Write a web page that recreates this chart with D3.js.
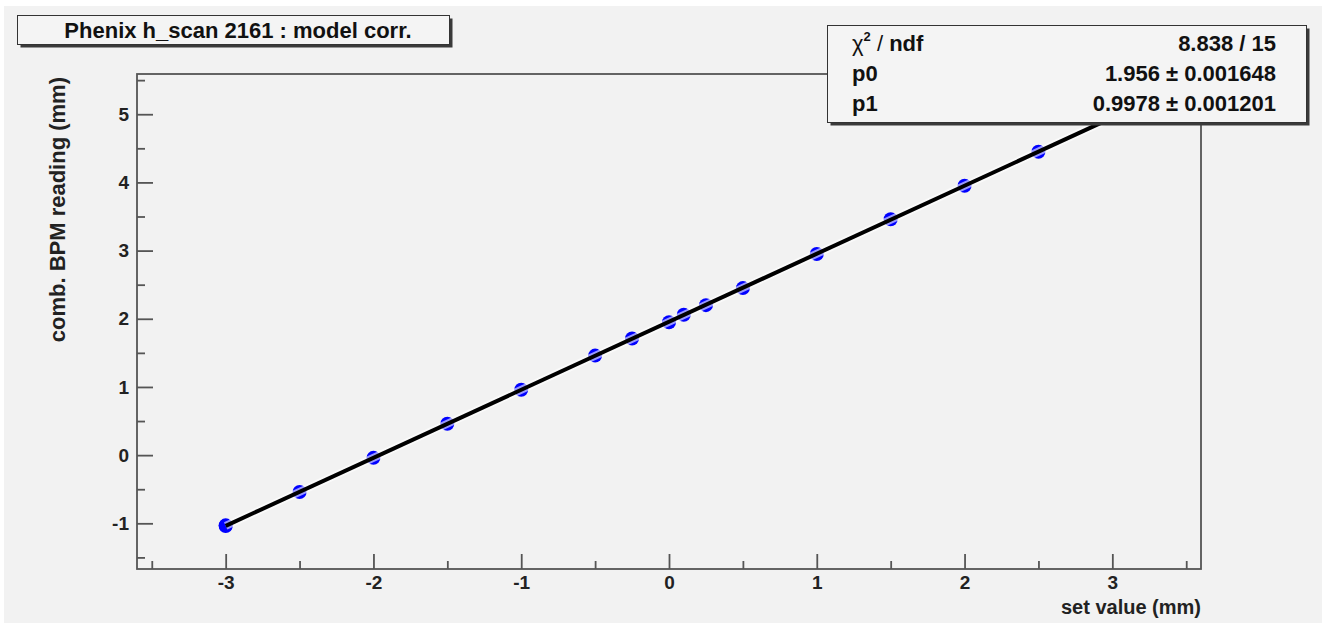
<!DOCTYPE html>
<html>
<head>
<meta charset="utf-8">
<script src="https://cdn.jsdelivr.net/npm/d3@7"></script>
<style>
  html, body { margin: 0; padding: 0; background: #ffffff; }
  svg { display: block; font-family: "Liberation Sans", Arial, Helvetica, sans-serif; }
</style>
</head>
<body>
<svg id="chart" width="1325" height="627"></svg>
<script>
// Horizontal scan 2161: set value vs combined BPM reading
const setValues = [-3, -3, -2.5, -2, -1.5, -1, -0.5, -0.25, 0, 0.1, 0.25, 0.5, 1, 1.5, 2, 2.5, 3];
const bpmReadings = [-1.03, -1.04, -0.54, -0.04, 0.46, 0.96, 1.46, 1.71, 1.95, 2.06, 2.20, 2.45, 2.95, 3.46, 3.95, 4.45, 4.95];

// Linear fit result (pol1): y = p0 + p1 * x
const fitP0 = 1.956;
const fitP1 = 0.9978;
const statsRows = [
  { name: "χ2 / ndf", value: "8.838 / 15" },
  { name: "p0", value: "1.956 ± 0.001648" },
  { name: "p1", value: "0.9978 ± 0.001201" }
];

const xMajorTicks = [-3, -2, -1, 0, 1, 2, 3];
const xMinorTicks = [-3.5, -2.5, -1.5, -0.5, 0.5, 1.5, 2.5, 3.5];
const yMajorTicks = [-1, 0, 1, 2, 3, 4, 5];
const yMinorTicks = [-1.5, -0.5, 0.5, 1.5, 2.5, 3.5, 4.5, 5.5];

const titleText = "Phenix h_scan 2161 : model corr.";
const xTitle = "set value (mm)";
const yTitle = "comb. BPM reading (mm)";

const svg = d3.select("#chart");
const W = 1325, H = 627;
const frame = { left: 137, right: 1201, top: 74, bottom: 569 };

// Pad background
svg.append("rect").attr("x", 4).attr("y", 6).attr("width", W - 7).attr("height", H - 10)
  .attr("fill", "#f2f2f2");

const x = d3.scaleLinear().domain([-3.6, 3.6]).range([frame.left, frame.right]);
const y = d3.scaleLinear().domain([-1.67, 5.59]).range([frame.bottom, frame.top]);

const axisColor = "#555";
const tickFmt = d => String(d); // plain hyphen minus, as in the ROOT canvas

// Frame
svg.append("rect")
  .attr("x", frame.left).attr("y", frame.top)
  .attr("width", frame.right - frame.left).attr("height", frame.bottom - frame.top)
  .attr("fill", "none").attr("stroke", axisColor).attr("stroke-width", 1.8);

function styleAxis(g) {
  g.select(".domain").remove();
  g.selectAll(".tick line").attr("stroke", axisColor).attr("stroke-width", 1.8);
  g.selectAll(".tick text")
    .attr("fill", "#222").attr("font-size", 19).attr("font-weight", "bold");
}

// X axis: ticks point into the frame
svg.append("g").attr("transform", `translate(0,${frame.bottom})`)
  .call(d3.axisBottom(x).tickValues(xMinorTicks).tickSize(-8).tickFormat(""))
  .call(styleAxis);
svg.append("g").attr("transform", `translate(0,${frame.bottom})`)
  .call(d3.axisBottom(x).tickValues(xMajorTicks).tickSize(-15).tickPadding(7)
    .tickFormat(tickFmt))
  .call(styleAxis);

// Y axis
svg.append("g").attr("transform", `translate(${frame.left},0)`)
  .call(d3.axisLeft(y).tickValues(yMinorTicks).tickSize(-8).tickFormat(""))
  .call(styleAxis);
svg.append("g").attr("transform", `translate(${frame.left},0)`)
  .call(d3.axisLeft(y).tickValues(yMajorTicks).tickSize(-16).tickPadding(8)
    .tickFormat(tickFmt))
  .call(styleAxis);

// Axis titles
svg.append("text")
  .attr("x", frame.right).attr("y", 614)
  .attr("text-anchor", "end").attr("font-size", 20).attr("font-weight", "bold")
  .attr("fill", "#222").text(xTitle);

svg.append("text")
  .attr("transform", `translate(65,${frame.top + 3}) rotate(-90)`)
  .attr("text-anchor", "end").attr("font-size", 22).attr("font-weight", "bold")
  .attr("fill", "#222").text(yTitle);

// Data markers
const points = setValues.map((v, i) => ({ x: v, y: bpmReadings[i] }));
svg.append("g").selectAll("circle").data(points).join("circle")
  .attr("cx", d => x(d.x)).attr("cy", d => y(d.y)).attr("r", 7)
  .attr("fill", "#0000ff");

// Fit line over the fitted range
const xFit = d3.extent(setValues);
const fitLine = d3.line().x(d => x(d)).y(d => y(fitP0 + fitP1 * d));
svg.append("path").datum(xFit).attr("d", fitLine)
  .attr("fill", "none").attr("stroke", "#ffffff").attr("stroke-opacity", 0.6)
  .attr("stroke-width", 8);
svg.append("path").datum(xFit).attr("d", fitLine)
  .attr("fill", "none").attr("stroke", "#000").attr("stroke-width", 4);

// Boxes with ROOT-style drop shadow
function shadowBox(x0, y0, w, h) {
  const g = svg.append("g");
  g.append("rect").attr("x", x0 + 3).attr("y", y0 + 3).attr("width", w).attr("height", h)
    .attr("fill", "#3a3a3a");
  g.append("rect").attr("x", x0).attr("y", y0).attr("width", w).attr("height", h)
    .attr("fill", "#f4f4f4").attr("stroke", "#333").attr("stroke-width", 1);
  return g;
}

// Title box
const tb = shadowBox(17.5, 15.5, 432, 29);
tb.append("text").attr("x", 238).attr("y", 38)
  .attr("text-anchor", "middle").attr("font-size", 22).attr("font-weight", "bold")
  .attr("fill", "#111").text(titleText);

// Fit statistics box
const sb = shadowBox(827.5, 25.5, 479, 97);
const rowY = [51, 81, 111];
statsRows.forEach((r, i) => {
  const t = sb.append("text").attr("x", 852).attr("y", rowY[i])
    .attr("font-size", 22).attr("font-weight", "bold").attr("fill", "#111");
  if (r.name.startsWith("χ2")) {
    t.append("tspan").attr("font-weight", "normal").text("χ");
    t.append("tspan").attr("font-size", 13).attr("dy", -10).text("2");
    t.append("tspan").attr("dy", 10).attr("font-weight", "normal").text(" / ");
    t.append("tspan").text("ndf");
  } else {
    t.text(r.name);
  }
  sb.append("text").attr("x", 1276).attr("y", rowY[i]).attr("text-anchor", "end")
    .attr("font-size", 22).attr("font-weight", "bold").attr("fill", "#111").text(r.value);
});
</script>
</body>
</html>
